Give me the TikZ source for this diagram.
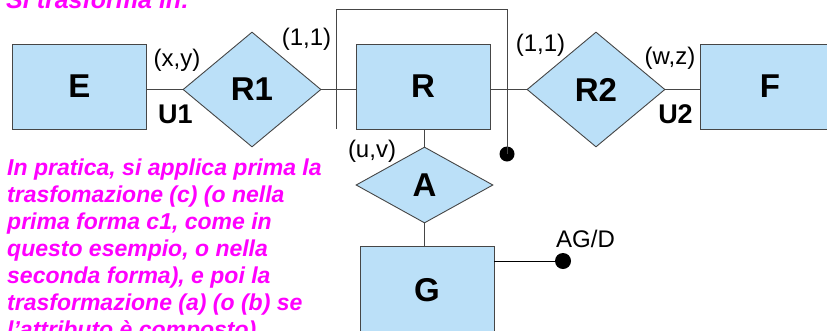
\documentclass[tikz,border=0pt]{standalone}
\usepackage{fontspec}
\setmainfont{Liberation Sans}
\usetikzlibrary{shapes.geometric}
\definecolor{erfill}{RGB}{187,224,248}
\definecolor{erline}{RGB}{70,70,70}
\definecolor{mag}{RGB}{255,0,255}
\tikzset{
  ent/.style={draw=erline, fill=erfill, line width=0.9pt, minimum width=134pt, minimum height=85pt, inner sep=0pt, font=\fontsize{33}{36}\selectfont\bfseries},
  rel/.style={diamond, draw=erline, fill=erfill, line width=0.9pt, minimum width=138pt, minimum height=115pt, inner sep=0pt, font=\fontsize{33}{36}\selectfont\bfseries},
  conn/.style={draw=erline, line width=0.9pt},
  card/.style={inner sep=0pt, font=\fontsize{24}{26}\selectfont},
  role/.style={inner sep=0pt, font=\fontsize{27}{30}\selectfont\bfseries},
  note/.style={inner sep=0pt, anchor=base west, text=mag, font=\fontsize{23}{27}\selectfont\bfseries\itshape},
  dotmark/.style={circle, fill=black, inner sep=0pt, minimum size=15pt}
}
\begin{document}
\begin{tikzpicture}[x=1pt,y=-1pt]
\useasboundingbox (0,0) rectangle (827,330);
\clip (0,0) rectangle (827,330);
% entities
\node[ent] (E) at (79.5,86.5) {E};
\node[ent] (R) at (423,86.5) {R};
\node[ent, minimum width=140pt] (F) at (770,86.5) {F};
\node[ent, minimum height=88pt] (G) at (427,290) {G};
% relationships
\node[rel] (R1) at (252,89.5) {R1};
\node[rel] (R2) at (596,89.5) {R2};
\node[rel, minimum width=137pt, minimum height=76pt] (A) at (424.5,185) {A};
% connectors
\draw[conn] (R1.west) -- (R1.west -| E.east);
\draw[conn] (R1.east) -- (R1.east -| R.west);
\draw[conn] (R2.west) -- (R2.west -| R.east);
\draw[conn] (R2.east) -- (R2.east -| F.west);
\coordinate (rtop) at (426,129);
\draw[conn] (A.north) -- (A.north |- R.south);
\draw[conn] (A.south) -- (A.south |- G.north);
% bracket
\coordinate (b1) at (336,129);
\coordinate (b2) at (336,9);
\coordinate (b3) at (507,9);
\node[dotmark] (d1) at (507,154) {};
\draw[conn] (b1) -- (b2) -- (b3) -- (d1.center);
% attribute
\node[dotmark, minimum size=16pt] (d2) at (563,261) {};
\draw[line width=0.9pt] (G.east |- d2) -- (d2.center);
\node[card] (agd) at (585.5,238.5) {AG/D};
% cardinalities
\node[card] (cxy) at (177,60) {(x,y)};
\node[card] (c11a) at (306.5,39) {(1,1)};
\node[card] (c11b) at (540.5,45) {(1,1)};
\node[card] (cwz) at (670,58.5) {(w,z)};
\node[card] (cuv) at (372,151.5) {(u,v)};
\node[role] (u1) at (175.5,114.5) {U1};
\node[role] (u2) at (675.5,114) {U2};
% texts
\node[note, font=\fontsize{25}{28}\selectfont\bfseries\itshape] (h) at (6,8) {Si trasforma in:};
\node[note] (p1) at (7,175) {In pratica, si applica prima la};
\node[note] (p2) at (7,202) {trasfomazione (c) (o nella};
\node[note] (p3) at (7,229) {prima forma c1, come in};
\node[note] (p4) at (7,256) {questo esempio, o nella};
\node[note] (p5) at (7,283) {seconda forma), e poi la};
\node[note] (p6) at (7,310) {trasformazione (a) (o (b) se};
\node[note] (p7) at (7,337) {l'attributo è composto).};
\end{tikzpicture}
\end{document}
